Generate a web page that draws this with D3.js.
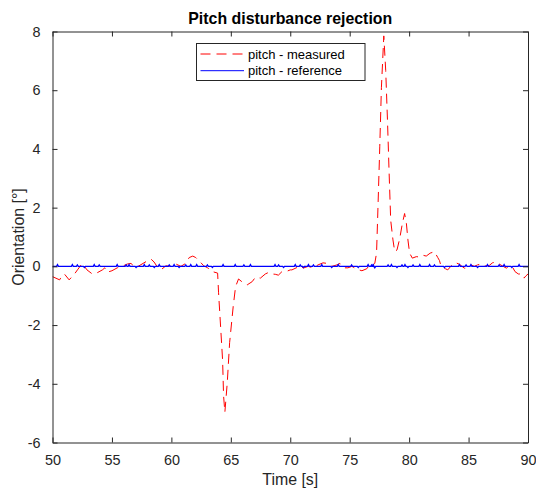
<!DOCTYPE html>
<html lang="en">
<head>
    <meta charset="UTF-8">
    <title>Pitch disturbance rejection</title>
    <script src="https://cdn.jsdelivr.net/npm/d3@7"></script>
    <style>
        body { margin: 0; background: #fff; }
        svg { display: block; font-family: "Liberation Sans", Arial, sans-serif; }
        .tick text { fill: #262626; }
    </style>
</head>
<body>
<svg width="536" height="489"></svg>
<script>
    // measured pitch (time [s], orientation [deg])
    const measT = [50.0, 50.6, 50.75, 51.0, 51.4, 51.85, 52.1, 52.5, 52.9, 53.35, 53.75, 54.2, 54.4, 54.6, 55.0,
        55.45, 55.85, 56.3, 56.6, 57.0, 57.2, 58.03, 58.28, 58.54, 58.87, 59.12, 59.54, 59.96, 60.38, 60.8,
        61.21, 61.5, 61.8, 62.05, 62.47, 62.72, 63.05, 63.47, 63.89, 63.97, 64.31, 64.39, 64.5, 64.7, 64.9,
        65.2, 65.4, 65.65, 66.07, 66.38, 66.8, 67.07, 67.49, 67.9, 68.16, 68.47, 68.74, 69.0, 69.3, 69.58,
        70.0, 70.14, 70.56, 70.84, 71.09, 71.51, 71.92, 72.34, 72.76, 73.1, 73.51, 73.93, 74.18, 74.6, 74.85,
        75.19, 75.61, 76.03, 76.44, 76.69, 76.95, 77.11, 77.26, 77.39, 77.53, 77.67, 77.87, 78.03, 78.18,
        78.31, 78.45, 78.64, 78.79, 78.98, 79.21, 79.43, 79.62, 79.77, 79.9, 80.04, 80.27, 80.6, 80.88,
        81.15, 81.44, 81.77, 82.13, 82.41, 82.55, 82.69, 83.05, 83.25, 83.67, 83.95, 84.23, 84.64, 84.92,
        85.2, 85.48, 85.76, 86.04, 86.46, 86.74, 87.01, 87.3, 87.57, 87.91, 88.18, 88.41, 88.69, 88.91,
        89.19, 89.47, 89.67, 89.81, 90.0];
    const measV = [-0.35, -0.46, -0.35, -0.26, -0.46, -0.26, -0.12, 0.1, -0.12, -0.26, -0.22, -0.12, -0.05, -0.2, -0.15,
        -0.05, 0.0, 0.08, 0.1, -0.05, 0.0, 0.2, 0.25, 0.15, -0.05, -0.12, 0.02, 0.0, 0.08, 0.0,
        0.1, 0.3, 0.35, 0.3, 0.13, 0.02, -0.05, -0.18, -0.23, -0.9, -3.2, -4.4, -4.97, -3.97, -2.6,
        -1.37, -0.69, -0.43, -0.57, -0.63, -0.52, -0.37, -0.4, -0.26, -0.21, -0.26, -0.27, -0.3, -0.18, -0.19,
        -0.12, -0.12, -0.04, 0.02, -0.06, 0.0, -0.05, 0.05, 0.12, 0.1, 0.0, 0.05, 0.1, -0.05, -0.05,
        0.0, -0.1, -0.15, -0.08, 0.06, 0.04, 0.1, 0.45, 2.15, 4.07, 6.1, 7.85, 6.67, 4.97,
        3.27, 1.57, 0.9, 0.5, 0.56, 0.95, 1.46, 1.8, 1.46, 0.9, 0.45, 0.28, 0.33, 0.32,
        0.38, 0.35, 0.45, 0.5, 0.3, 0.2, 0.0, -0.08, -0.12, 0.08, 0.12, 0.07, -0.06, -0.06,
        0.05, 0.0, 0.05, 0.08, 0.01, 0.03, 0.12, 0.15, 0.08, 0.0, -0.06, 0.0, -0.02, -0.18,
        -0.26, -0.26, -0.4, -0.33, -0.26];

    // reference pitch: zero with small blips
    const refT = [50.0, 50.42, 51.67, 52.09, 52.68, 53.51, 53.93, 55.44, 56.19, 56.44, 57.03, 57.72, 58.14, 58.56,
        58.98, 59.82, 60.23, 60.65, 61.21, 61.63, 62.13, 63.03, 63.45, 64.35, 65.37, 66.1, 66.65, 68.72,
        69.02, 69.44, 70.42, 70.84, 71.11, 71.53, 71.95, 72.65, 73.49, 74.04, 75.16, 75.72, 76.55, 76.84,
        76.97, 77.11, 78.23, 78.51, 78.98, 79.4, 79.65, 79.9, 80.33, 80.9, 81.72, 82.13, 82.97, 84.23,
        84.79, 85.2, 85.76, 86.59, 87.57, 87.99, 88.64, 89.25, 90.0];
    const refV = [0, 0.06, 0.06, 0.05, -0.04, 0.06, 0.05, 0.06, 0.05, 0.06, -0.04, 0.06, 0.05, -0.04,
        0.06, 0.05, 0.06, -0.04, 0.05, 0.06, 0.06, 0.05, -0.04, 0.06, 0.06, 0.05, 0.06, 0.06,
        0.05, -0.04, 0.06, 0.05, -0.04, 0.06, 0.05, 0.06, -0.04, 0.06, 0.05, -0.04, 0.06, 0.05,
        0.06, -0.05, 0.05, 0.06, -0.04, 0.05, 0.06, -0.04, 0.05, 0.06, 0.06, 0.05, -0.04, 0.06,
        0.05, 0.06, -0.04, 0.06, 0.05, 0.06, -0.04, 0.06, 0];

    const xTicks = [50, 55, 60, 65, 70, 75, 80, 85, 90];
    const yTicks = [-6, -4, -2, 0, 2, 4, 6, 8];

    const plotL = 52.5, plotR = 528, plotT = 31.5, plotB = 442.5;
    const axisColor = "#262626";

    const svg = d3.select("svg");

    const x = d3.scaleLinear().domain([50, 90]).range([plotL, plotR]);
    const y = d3.scaleLinear().domain([-6, 8]).range([plotB, plotT]);

    svg.append("clipPath").attr("id", "plot")
        .append("rect").attr("x", plotL).attr("y", plotT)
        .attr("width", plotR - plotL).attr("height", plotB - plotT);

    // blips are drawn as small triangles on the zero line
    const refPts = [];
    refT.forEach((t, i) => {
        if (refV[i] === 0) { refPts.push([t, 0]); return; }
        refPts.push([t - 0.08, 0], [t, refV[i]], [t + 0.08, 0]);
    });

    const line = d3.line().x(d => x(d[0])).y(d => y(d[1]));
    const plot = svg.append("g").attr("clip-path", "url(#plot)");

    plot.append("path")
        .attr("d", line(measT.map((t, i) => [t, measV[i]])))
        .attr("fill", "none").attr("stroke", "#ff0000").attr("stroke-width", 1)
        .attr("stroke-dasharray", "10,6");

    plot.append("path")
        .attr("d", line(refPts))
        .attr("fill", "none").attr("stroke", "#0000ff").attr("stroke-width", 1.3);

    // axes (MATLAB box style, ticks inside, on all sides)
    const fs = "14.4px";
    const gx = svg.append("g").attr("transform", `translate(0,${plotB})`)
        .call(d3.axisBottom(x).tickValues(xTicks).tickSizeInner(-5).tickSizeOuter(0).tickPadding(12));
    const gxt = svg.append("g").attr("transform", `translate(0,${plotT})`)
        .call(d3.axisTop(x).tickValues(xTicks).tickSizeInner(-5).tickSizeOuter(0).tickFormat(""));
    const gy = svg.append("g").attr("transform", `translate(${plotL},0)`)
        .call(d3.axisLeft(y).tickValues(yTicks).tickSizeInner(-5).tickSizeOuter(0).tickPadding(12));
    const gyr = svg.append("g").attr("transform", `translate(${plotR},0)`)
        .call(d3.axisRight(y).tickValues(yTicks).tickSizeInner(-5).tickSizeOuter(0).tickFormat(""));

    [gx, gxt, gy, gyr].forEach(g => {
        g.selectAll("path, line").attr("stroke", axisColor);
        g.selectAll("text").style("font-size", fs).attr("font-family", null);
    });
    gy.selectAll("text").text(d => d < 0 ? "-" + Math.abs(d) : d);

    // titles
    svg.append("text").attr("x", (plotL + plotR) / 2).attr("y", 24)
        .attr("text-anchor", "middle").style("font-size", "15.9px").style("font-weight", "bold")
        .attr("fill", "#000").text("Pitch disturbance rejection");
    svg.append("text").attr("x", (plotL + plotR) / 2).attr("y", 485)
        .attr("text-anchor", "middle").style("font-size", "15.9px").attr("fill", axisColor)
        .text("Time [s]");
    svg.append("text").attr("transform", `translate(24,${(plotT + plotB) / 2}) rotate(-90)`)
        .attr("text-anchor", "middle").style("font-size", "15.9px").attr("fill", axisColor)
        .text("Orientation [°]");

    // legend
    const lg = svg.append("g");
    lg.append("rect").attr("x", 196.5).attr("y", 43.5).attr("width", 168.5).attr("height", 37)
        .attr("fill", "#fff").attr("stroke", axisColor).attr("stroke-width", 1);
    const items = [["pitch - measured", "#ff0000", "10,6"], ["pitch - reference", "#0000ff", null]];
    items.forEach((it, i) => {
        const ly = 54 + i * 16.7;
        lg.append("line").attr("x1", 200.5).attr("x2", 244).attr("y1", ly).attr("y2", ly)
            .attr("stroke", it[1]).attr("stroke-width", 1).attr("stroke-dasharray", it[2]);
        lg.append("text").attr("x", 248).attr("y", ly + 4.6).style("font-size", "13px")
            .attr("fill", "#000").text(it[0]);
    });
</script>
</body>
</html>
